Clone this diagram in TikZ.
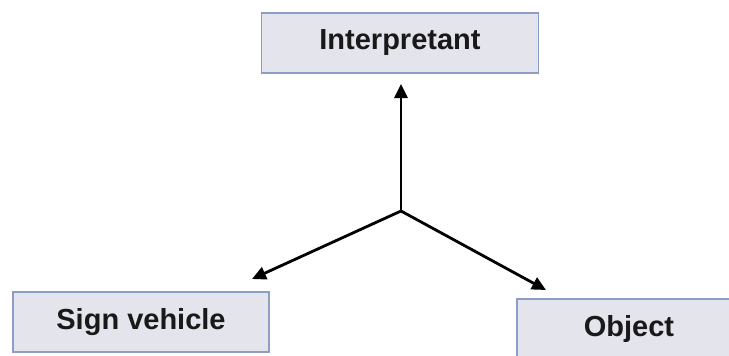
\documentclass[tikz,border=0pt]{standalone}
\usepackage{fontspec}
\setmainfont{Liberation Sans}
\usetikzlibrary{arrows.meta}
\definecolor{boxfill}{HTML}{E4E4EC}
\definecolor{boxline}{HTML}{8E9CC8}
\begin{document}
\begin{tikzpicture}[x=1pt,y=-1pt,
  termbox/.style={draw=boxline,line width=1.5pt,fill=boxfill,inner sep=0pt,font=\fontsize{29}{33}\selectfont\bfseries,text=black!90},
  arr/.style={line width=2.8pt,-{Triangle[length=14pt,width=13pt]}}]
\useasboundingbox (0,0) rectangle (729,356);
\clip (0,0) rectangle (729,356);
\fill[white] (0,0) rectangle (729,356);
\node[termbox,minimum width=277pt,minimum height=60pt] (interp) at (400,43) {Interpretant};
\node[termbox,minimum width=256pt,minimum height=60pt] (sign) at (141,322) {Sign vehicle};
\node[termbox,minimum width=224pt,minimum height=60pt] (object) at (629,329) {Object};
\coordinate (c) at (401,211);
\draw[arr] (c) -- (401,84);
\draw[arr] (c) -- (252,279);
\draw[arr] (c) -- (546,290);
\end{tikzpicture}
\end{document}
